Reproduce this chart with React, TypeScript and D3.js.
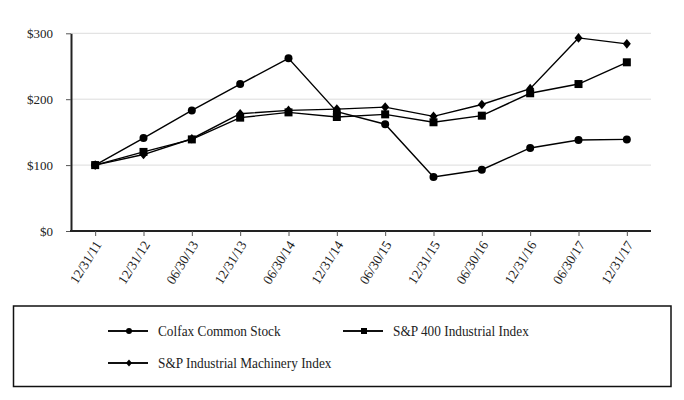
import React, { useEffect, useRef } from "react";
import * as d3 from "d3";

const dates = [
  "12/31/11", "12/31/12", "06/30/13", "12/31/13", "06/30/14", "12/31/14",
  "06/30/15", "12/31/15", "06/30/16", "12/31/16", "06/30/17", "12/31/17",
];

const colfax = [100, 141, 183, 223, 262, 181, 162, 82, 93, 126, 138, 139];
const sp400 = [100, 120, 139, 172, 180, 173, 177, 165, 175, 209, 223, 256];
const machinery = [100, 116, 140, 178, 183, 185, 188, 174, 192, 216, 293, 284];

const yTicks = [0, 100, 200, 300];

type Marker = "circle" | "square" | "diamond";

const seriesList: { name: string; values: number[]; marker: Marker }[] = [
  { name: "Colfax Common Stock", values: colfax, marker: "circle" },
  { name: "S&P 400 Industrial Index", values: sp400, marker: "square" },
  { name: "S&P Industrial Machinery Index", values: machinery, marker: "diamond" },
];

const FONT = "Liberation Serif, DejaVu Serif, serif";

const App: React.FC = () => {
  const svgRef = useRef<SVGSVGElement | null>(null);

  useEffect(() => {
    document.body.style.margin = "0";
    const svg = d3.select(svgRef.current);
    svg.selectAll("*").remove();

    const left = 71;
    const right = 651;
    const top = 33.3;
    const bottom = 231;

    const x = d3.scalePoint<string>().domain(dates).range([left, right]).padding(0.5);
    const y = d3.scaleLinear().domain([0, 300]).range([bottom, top]);

    // gridlines
    svg
      .append("g")
      .selectAll("line")
      .data(yTicks.filter((d) => d > 0))
      .enter()
      .append("line")
      .attr("x1", left)
      .attr("x2", right)
      .attr("y1", (d) => y(d))
      .attr("y2", (d) => y(d))
      .attr("stroke", "#dcdcdc")
      .attr("stroke-width", 1);

    // y axis
    const yAxis = svg
      .append("g")
      .attr("transform", `translate(${left},0)`)
      .call(
        d3
          .axisLeft(y)
          .tickValues(yTicks)
          .tickFormat((d) => `$${d}`)
          .tickSize(5)
          .tickSizeOuter(0)
          .tickPadding(13)
      );
    yAxis.select(".domain").attr("stroke", "#222").attr("stroke-width", 2);
    yAxis.selectAll(".tick line").attr("stroke", "#555");
    yAxis
      .selectAll(".tick text")
      .style("font-family", FONT)
      .style("font-size", "13px")
      .attr("fill", "#222");

    // x axis
    const xAxis = svg
      .append("g")
      .attr("transform", `translate(0,${bottom})`)
      .call(d3.axisBottom(x).tickSize(5).tickSizeOuter(0).tickFormat(() => ""));
    xAxis
      .select(".domain")
      .attr("d", `M${left - 1},0H${right}`)
      .attr("stroke", "#222")
      .attr("stroke-width", 2);
    xAxis.selectAll(".tick line").attr("stroke", "#555");

    svg
      .append("g")
      .selectAll("text")
      .data(dates)
      .enter()
      .append("text")
      .attr("transform", (d) => `translate(${(x(d) as number) + 3},${bottom + 11}) rotate(-58)`)
      .attr("text-anchor", "end")
      .attr("dy", "0.35em")
      .style("font-family", FONT)
      .style("font-size", "13.5px")
      .attr("fill", "#222")
      .text((d) => d);

    const drawMarker = (
      g: d3.Selection<SVGGElement, unknown, null, undefined>,
      marker: Marker,
      cx: number,
      cy: number,
      s: number
    ) => {
      if (marker === "circle") {
        g.append("circle").attr("cx", cx).attr("cy", cy).attr("r", s * 0.5).attr("fill", "#000");
      } else if (marker === "square") {
        g.append("rect")
          .attr("x", cx - s * 0.5)
          .attr("y", cy - s * 0.5)
          .attr("width", s)
          .attr("height", s)
          .attr("fill", "#000");
      } else {
        const h = s * 0.6;
        const w = s * 0.5;
        g.append("path")
          .attr("d", `M${cx},${cy - h}L${cx + w},${cy}L${cx},${cy + h}L${cx - w},${cy}Z`)
          .attr("fill", "#000");
      }
    };

    const line = d3
      .line<number>()
      .x((_, i) => x(dates[i]) as number)
      .y((d) => y(d));

    // draw in reverse so Colfax sits on top
    [...seriesList].reverse().forEach((s) => {
      const g = svg.append("g");
      g.append("path")
        .attr("d", line(s.values))
        .attr("fill", "none")
        .attr("stroke", "#000")
        .attr("stroke-width", 1.4);
      s.values.forEach((v, i) => {
        drawMarker(g, s.marker, x(dates[i]) as number, y(v), 8);
      });
    });

    // legend
    const legend = svg.append("g");
    legend
      .append("rect")
      .attr("x", 13.5)
      .attr("y", 306)
      .attr("width", 657.5)
      .attr("height", 80.5)
      .attr("fill", "white")
      .attr("stroke", "#111")
      .attr("stroke-width", 1.5);

    const legendPos = [
      { x: 108, y: 331 },
      { x: 343, y: 331 },
      { x: 108, y: 363 },
    ];

    seriesList.forEach((s, i) => {
      const p = legendPos[i];
      const g = legend.append("g");
      g.append("line")
        .attr("x1", p.x)
        .attr("x2", p.x + 40)
        .attr("y1", p.y)
        .attr("y2", p.y)
        .attr("stroke", "#111")
        .attr("stroke-width", 2);
      drawMarker(g, s.marker, p.x + 21, p.y, 6);
      g.append("text")
        .attr("transform", `translate(${p.x + 50},${p.y}) scale(1,1.15)`)
        .attr("dy", "0.35em")
        .style("font-family", FONT)
        .style("font-size", "13.3px")
        .attr("fill", "#222")
        .text(s.name);
    });
  }, []);

  return <svg ref={svgRef} width={684} height={400} style={{ display: "block" }}></svg>;
};

export default App;
